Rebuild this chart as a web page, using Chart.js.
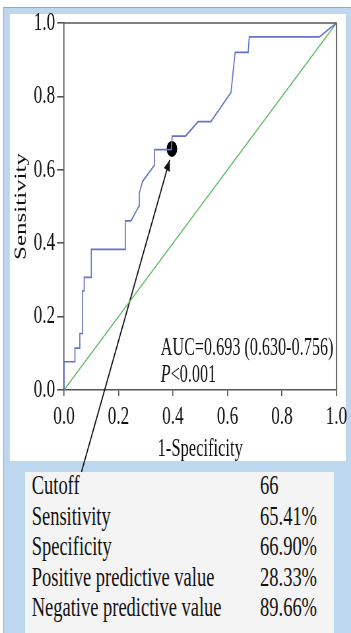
<!DOCTYPE html>
<html>
<head>
<meta charset="utf-8">
<script src="https://cdn.jsdelivr.net/npm/chart.js@4"></script>
<style>
html, body { margin: 0; padding: 0; background: #fff; overflow: hidden; }
/* the source picture is squeezed horizontally, so the whole page is drawn wide and scaled */
#page { position: absolute; left: 0; top: 0; width: 532px; height: 633px; transform: scaleX(0.66); transform-origin: 0 0; background: #fff; }
#frame { position: absolute; left: 5px; top: 7px; width: 527px; height: 626px; background: #bcd7ee; border-left: 1px solid #98a8b6; border-top: 1px solid #98a8b6; }
#panel { position: absolute; left: 15px; top: 14px; width: 509px; height: 447px; background: #fff; }
#stats { position: absolute; left: 38px; top: 472px; width: 468px; height: 161px; background: #f4f4f4; }
#rows { position: absolute; left: 48px; top: 470px; font-family: "Liberation Serif", serif; font-size: 28px; line-height: 30.5px; color: #111; }
.row { position: relative; width: 460px; height: 30.5px; white-space: nowrap; }
.row .v { position: absolute; left: 346px; top: 0; }
#roc { position: absolute; left: 0; top: 0; }
</style>
</head>
<body>
<div id="page">
  <div id="frame"></div>
  <div id="panel"></div>
  <div id="stats"></div>
  <div id="rows"></div>
  <canvas id="roc" width="532" height="633"></canvas>
</div>
<script>
// ROC curve
const rocFpr = [0, 0, 0.04, 0.04, 0.058, 0.058, 0.068, 0.068, 0.074, 0.074, 0.10, 0.10, 0.225, 0.225, 0.246, 0.274, 0.276, 0.288, 0.332, 0.332, 0.394, 0.397, 0.446, 0.492, 0.539, 0.613, 0.628, 0.676, 0.68, 0.937, 1];
const rocTpr = [0, 0.077, 0.077, 0.114, 0.114, 0.154, 0.154, 0.27, 0.27, 0.307, 0.307, 0.383, 0.383, 0.461, 0.461, 0.50, 0.535, 0.568, 0.613, 0.655, 0.655, 0.692, 0.692, 0.731, 0.731, 0.811, 0.92, 0.92, 0.962, 0.962, 1];
const refFpr = [0, 1];
const refTpr = [0, 1];
const cutFpr = [0.396];
const cutTpr = [0.657];
const arrowFpr = [0.064, 0.388];
const arrowTpr = [-0.223, 0.627];
const tickLabels = ['0.0', '0.2', '0.4', '0.6', '0.8', '1.0'];
const aucText = 'AUC=0.693 (0.630-0.756)';
const pText = '<0.001';
const aucPos = [0.355, 0.095, 0.023];
const statNames = ['Cutoff', 'Sensitivity', 'Specificity', 'Positive predictive value', 'Negative predictive value'];
const statValues = ['66', '65.41%', '66.90%', '28.33%', '89.66%'];

document.getElementById('rows').innerHTML = statNames.map((name, i) => `
    <div class="row">${name}<span class="v">${statValues[i]}</span></div>
`).join('');

function points(xs, ys) {
    return xs.map((x, i) => ({ x: x, y: ys[i] }));
}

const serif = '"Liberation Serif", serif';
const axisColor = '#555';
const textColor = '#111';

const framePlugin = {
    id: 'frame',
    afterDatasetsDraw(chart) {
        const { ctx, chartArea: a, scales } = chart;
        ctx.save();
        ctx.strokeStyle = axisColor;
        ctx.lineWidth = 1.6;
        ctx.beginPath();
        ctx.moveTo(a.left, a.top);
        ctx.lineTo(a.right, a.top);
        ctx.lineTo(a.right, a.bottom);
        ctx.stroke();

        // arrow head at the end of the pointer line
        const x0 = scales.x.getPixelForValue(arrowFpr[0]);
        const y0 = scales.y.getPixelForValue(arrowTpr[0]);
        const x1 = scales.x.getPixelForValue(arrowFpr[1]);
        const y1 = scales.y.getPixelForValue(arrowTpr[1]);
        const ang = Math.atan2(y1 - y0, x1 - x0);
        ctx.fillStyle = '#111';
        ctx.translate(x1, y1);
        ctx.rotate(ang);
        ctx.beginPath();
        ctx.moveTo(0, 0);
        ctx.lineTo(-11, -5);
        ctx.lineTo(-11, 5);
        ctx.closePath();
        ctx.fill();
        ctx.restore();

        // AUC note
        const tx = scales.x.getPixelForValue(aucPos[0]);
        ctx.save();
        ctx.fillStyle = textColor;
        ctx.textBaseline = 'alphabetic';
        ctx.font = '24.5px ' + serif;
        ctx.fillText(aucText, tx, scales.y.getPixelForValue(aucPos[1]));
        ctx.font = 'italic 24.5px ' + serif;
        const py = scales.y.getPixelForValue(aucPos[2]);
        ctx.fillText('P', tx, py);
        const pw = ctx.measureText('P').width;
        ctx.font = '24.5px ' + serif;
        ctx.fillText(pText, tx + pw, py);
        ctx.restore();
    }
};

function axis(tickLength, padding, titleText, titlePad) {
    return {
        type: 'linear',
        min: 0,
        max: 1,
        border: { display: true, color: axisColor, width: 1.6 },
        grid: { drawOnChartArea: false, drawTicks: true, tickLength: tickLength, color: axisColor, lineWidth: 1.6 },
        ticks: {
            stepSize: 0.2,
            padding: padding,
            color: textColor,
            font: { family: serif, size: 26 },
            callback: (v) => tickLabels[Math.round(v * 5)]
        },
        title: { display: true, text: titleText, color: textColor, font: { family: serif, size: 25 }, padding: titlePad }
    };
}

const xAxis = axis(6, 6, '1-Specificity', { top: 0, bottom: 6 });
xAxis.afterFit = (s) => { s.height = 80; };
const yAxis = axis(10.6, 3, 'Sensitivity', { top: 17, bottom: 0 });
yAxis.afterFit = (s) => { s.width = 97; };

new Chart(document.getElementById('roc').getContext('2d'), {
    type: 'scatter',
    data: {
        datasets: [
            { data: points(rocFpr, rocTpr), showLine: true, borderColor: '#6474c6', borderWidth: 1.7, pointRadius: 0, tension: 0 },
            { data: points(refFpr, refTpr), showLine: true, borderColor: '#5cb860', borderWidth: 1.4, pointRadius: 0 },
            { data: points(arrowFpr, arrowTpr), showLine: true, borderColor: '#111', borderWidth: 1.7, pointRadius: 0, clip: false },
            { data: points(cutFpr, cutTpr), pointRadius: 8, backgroundColor: '#000', borderColor: '#000', borderWidth: 0 }
        ]
    },
    options: {
        responsive: false,
        animation: false,
        devicePixelRatio: 1,
        layout: { padding: { left: 0, top: 23, right: 18.4, bottom: 163 } },
        plugins: { legend: { display: false }, tooltip: { enabled: false } },
        scales: { x: xAxis, y: yAxis }
    },
    plugins: [framePlugin]
});
</script>
</body>
</html>
